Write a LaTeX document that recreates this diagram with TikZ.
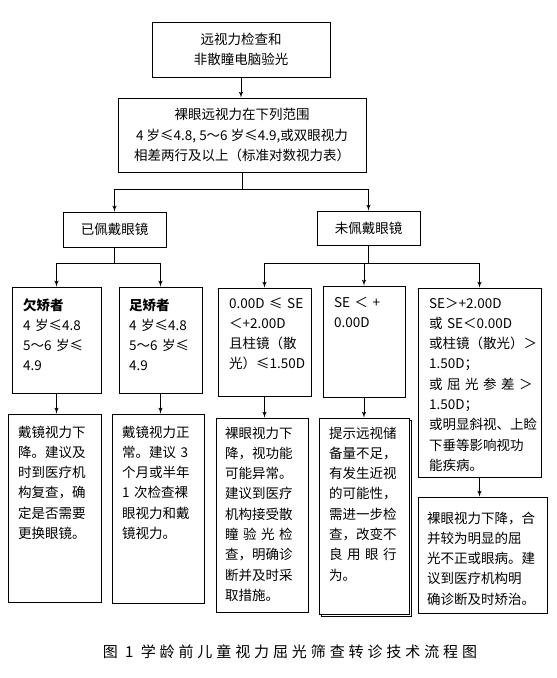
\documentclass[tikz,border=0pt]{standalone}
\usepackage{fontspec}
\setmainfont{Noto Sans CJK SC}
\usetikzlibrary{arrows, shadows}
\tikzstyle{box} = [rectangle, draw, line width=1pt, inner sep=0pt,
    align=center, font=\fontsize{13.5}{20.5}\selectfont]
\tikzstyle{txt} = [anchor=base west, inner sep=0pt, text width=130pt,
    align=left, font=\fontsize{13.5}{20.3}\selectfont]
\tikzstyle{link} = [draw, line width=1pt, -latex']
\begin{document}
\begin{tikzpicture}[x=1pt, y=-1pt]
\useasboundingbox (0,0) rectangle (557,678);
% upper part
\node [box, minimum width=178pt, minimum height=55pt] at (241,49.5) (check) {远视力检查和\\非散瞳电脑验光};
\node [box, minimum width=248pt, minimum height=74pt] at (242,135) (range) {裸眼远视力在下列范围\\4 岁≤4.8, 5～6 岁≤4.9,或双眼视力\\相差两行及以上（标准对数视力表）};
\node [box, minimum width=103pt, minimum height=35pt] at (114.5,229.5) (worn) {已佩戴眼镜};
\node [box, minimum width=103pt, minimum height=34pt] at (368.5,228) (notworn) {未佩戴眼镜};
\coordinate (split) at (242,189);
\coordinate (wornsplit) at (114.5,263);
\coordinate (notwornsplit) at (368.5,263);
% second row
\node [box, minimum width=89pt, minimum height=106pt] at (56.5,340) (under) {};
\node [box, minimum width=83pt, minimum height=106pt] at (160.5,340) (full) {};
\node [box, minimum width=93pt, minimum height=108pt] at (264.5,342) (seA) {};
\node [box, minimum width=82pt, minimum height=111pt] at (364,341.5) (seB) {};
\node [box, minimum width=123pt, minimum height=189pt] at (479.5,382.5) (seC) {};
\node [txt] at (23,310) {\textbf{欠矫者}\\4 岁≤4.8\\5～6 岁≤\\4.9};
\node [txt] at (129,310) {\textbf{足矫者}\\4 岁≤4.8\\5～6 岁≤\\4.9};
\node [txt] at (229,308) {0.00D ≤ SE\\＜+2.00D\\且柱镜（散\\光）≤1.50D};
\node [txt] at (334,307) {SE ＜ +\\0.00D};
\node [txt] at (429,308) {SE＞+2.00D\\或 SE＜0.00D\\或柱镜（散光）＞\\1.50D；\\\makebox[98pt][s]{或 屈 光 参 差 ＞}\\1.50D；\\或明显斜视、上睑\\下垂等影响视功\\能疾病。};
% advice boxes
\node [box, minimum width=93pt, minimum height=188pt] at (54.5,508) (underR) {};
\node [box, minimum width=92pt, minimum height=189pt] at (158,508.5) (fullR) {};
\node [box, minimum width=92pt, minimum height=194pt] at (262,515) (seAR) {};
\node [box, fill=white, copy shadow={shadow xshift=2pt, shadow yshift=-2pt}, minimum width=90pt, minimum height=196pt] at (364,516) (seBR) {};
\node [box, minimum width=129pt, minimum height=116pt] at (482.5,555) (seCR) {};
\node [txt] at (18,437) {戴镜视力下\\降。建议及\\时到医疗机\\构复查，确\\定是否需要\\更换眼镜。};
\node [txt] at (122,437) {戴镜视力正\\常。建议 3\\个月或半年\\1 次检查裸\\眼视力和戴\\镜视力。};
\node [txt] at (225,438) {裸眼视力下\\降，视功能\\可能异常。\\建议到医疗\\机构接受散\\\makebox[68pt][s]{瞳 验 光 检}\\查，明确诊\\断并及时采\\取措施。};
\node [txt] at (329,438) {提示远视储\\备量不足，\\有发生近视\\的可能性，\\需进一步检\\查，改变不\\\makebox[69pt][s]{良 用 眼 行}\\为。};
\node [txt] at (427,523) {裸眼视力下降，合\\并较为明显的屈\\光不正或眼病。建\\议到医疗机构明\\确诊断及时矫治。};
\node [font=\fontsize{15}{18}\selectfont\addfontfeature{LetterSpace=26}] at (290,652) (title) {图 1 学龄前儿童视力屈光筛查转诊技术流程图};
% connectors
\path [link] (check.south) -- (check.south |- range.north);
\draw [line width=1pt] (range.south) -- (split);
\path [link] (split) -| (worn.north);
\path [link] (split) -| (notworn.north);
\draw [line width=1pt] (worn.south) -- (wornsplit);
\path [link] (wornsplit) -| (under.north);
\path [link] (wornsplit) -| (full.north);
\draw [line width=1pt] (notworn.south) -- (notwornsplit);
\path [link] (notwornsplit) -| (seA.north);
\path [link] (notwornsplit) -| (seB.north);
\path [link] (notwornsplit) -| (seC.north);
\path [link] (under.south) -- (under.south |- underR.north);
\path [link] (full.south) -- (full.south |- fullR.north);
\path [link] (seA.south) -- (seA.south |- seAR.north);
\path [link] (seB.south) -- (seB.south |- seBR.north);
\path [link] (seC.south) -- (seC.south |- seCR.north);
\end{tikzpicture}
\end{document}
